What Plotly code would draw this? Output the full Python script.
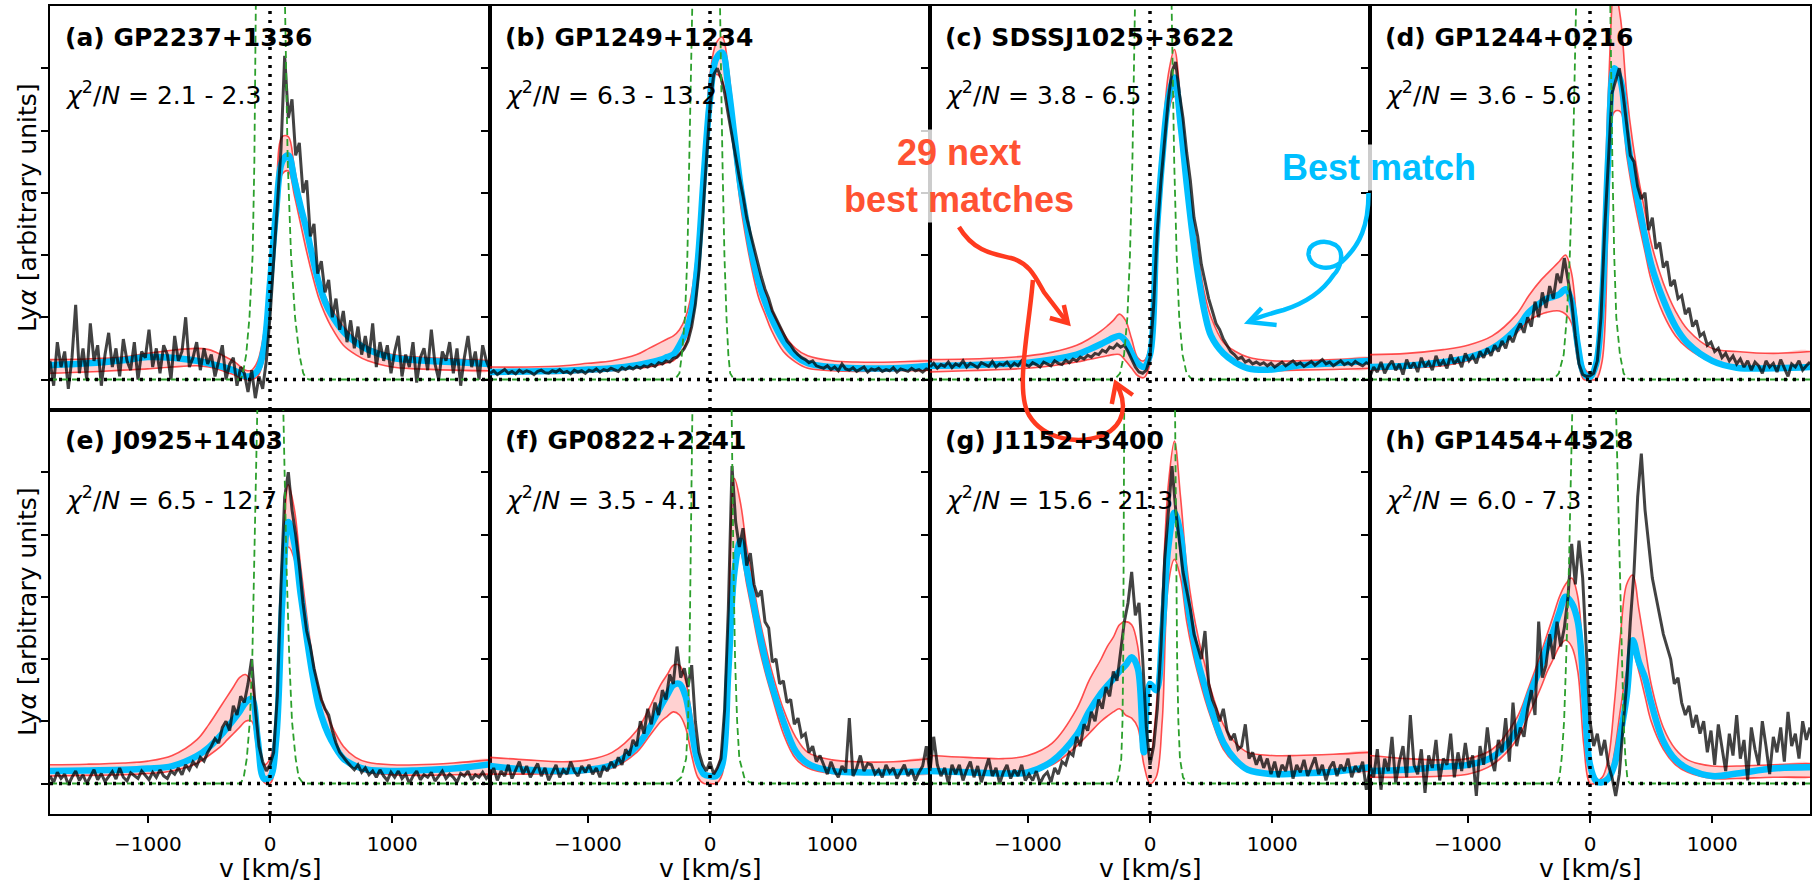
import plotly.graph_objects as go
from plotly.subplots import make_subplots

# ---------------- data (units: y-tick spacing, v in km/s) ----------------
V_BLACK = list(range(-1800, 1801, 30))
V_MODEL = [-1800, -1500, -1200, -1000, -800, -600, -500, -400, -350, -300, -250, -200, -150, -100, -50, 0,
           50, 100, 150, 200, 250, 300, 350, 400, 450, 500, 600, 700, 800, 1000, 1200, 1500, 1800]
GREEN_Y = [0, 0, 0.02, 0.1, 0.4, 1.0, 2.0, 3.5, 6.0, 9.0]

NAMES = ["(a) GP2237+1336", "(b) GP1249+1234", "(c) SDSSJ1025+3622", "(d) GP1244+0216",
         "(e) J0925+1403", "(f) GP0822+2241", "(g) J1152+3400", "(h) GP1454+4528"]
CHI_LO = ["2.1", "6.3", "3.8", "3.6", "6.5", "3.5", "15.6", "6.0"]
CHI_HI = ["2.3", "13.2", "6.5", "5.6", "12.7", "4.1", "21.3", "7.3"]
X_TICKS = [-1000, 0, 1000]
X_TICK_TEXT = ["\u22121000", "0", "1000"]
Y_TICKS = [0, 1, 2, 3, 4, 5]

BLACK_A = [0.3, -0.1, 0.6, 0.2, 0.45, -0.15, 0.35, 1.2, 0.1, 0.5, 0.0, 0.9, 0.3, 0.55, -0.1, 0.4, 0.75, 0.2, 0.5, 0.05, 0.65, 0.3, 0.15, 0.6, 0.0, 0.45, 0.35,
           0.8, 0.2, 0.5, 0.1, 0.55, 0.4, 0.0, 0.7, 0.3, 0.45, 1.0, 0.2, 0.35, 0.6, 0.15, 0.5, 0.25,
           0.4, 0.05, 0.3, 0.55, 0.0, 0.25, 0.35, -0.1, 0.2, 0.1,
           -0.2, 0.15, -0.3, 0.05, -0.15, 0.3,
           1.0,
           1.9, 2.9, 3.7, 5.2, 4.2, 4.5, 3.6, 3.8, 3.0, 3.2, 2.3, 2.5, 1.7, 1.9, 1.4, 1.6, 1.0, 1.3, 0.8, 1.1, 0.6, 0.95, 0.5, 0.85, 0.4, 0.7, 0.35, 0.9, 0.2, 0.6,
           0.3, 0.55, 0.1, 0.45, 0.7, 0.05, 0.4, 0.2, 0.6, -0.05, 0.35, 0.5, 0.15, 0.8, 0.25, 0.0, 0.45, 0.3, 0.6, 0.1, 0.5, -0.1, 0.35, 0.7, 0.2, 0.45, 0.0, 0.55, 0.3, 0.15]
BLACK_B = [0.1, 0.14, 0.08, 0.12, 0.16, 0.1, 0.13, 0.09, 0.15, 0.11, 0.14, 0.12, 0.08, 0.13, 0.15, 0.11, 0.1, 0.14, 0.12, 0.16, 0.11, 0.13, 0.09, 0.15, 0.12, 0.14, 0.1,
           0.15, 0.13, 0.17, 0.12, 0.16, 0.14, 0.18, 0.15, 0.13, 0.19, 0.16, 0.2, 0.17, 0.21, 0.18, 0.22, 0.2,
           0.24, 0.21, 0.27, 0.25, 0.3, 0.28, 0.34, 0.36, 0.42, 0.5,
           0.62, 0.85, 1.2, 1.75, 2.6, 3.6,
           4.4,
           4.9, 5.0, 4.85, 4.6, 4.25, 3.9, 3.55, 3.25, 2.95, 2.6, 2.35, 2.1, 1.85, 1.65, 1.45, 1.3, 1.1, 0.98, 0.85, 0.72, 0.62, 0.55, 0.46, 0.4, 0.35, 0.32, 0.27, 0.3, 0.22, 0.2,
           0.18, 0.22, 0.16, 0.2, 0.14, 0.25, 0.17, 0.15, 0.19, 0.13, 0.16, 0.2, 0.12, 0.17, 0.15, 0.18, 0.13, 0.16, 0.14, 0.19, 0.12, 0.17, 0.15, 0.13, 0.18, 0.14, 0.16, 0.12, 0.17, 0.15]
BLACK_C = [0.2, 0.26, 0.18, 0.24, 0.21, 0.28, 0.19, 0.25, 0.22, 0.3, 0.2, 0.26, 0.23, 0.19, 0.27, 0.24, 0.21, 0.29, 0.2, 0.25, 0.23, 0.28, 0.2, 0.26, 0.22, 0.3, 0.24,
           0.21, 0.27, 0.24, 0.2, 0.28, 0.25, 0.22, 0.3, 0.26, 0.24, 0.31, 0.27, 0.33, 0.3, 0.36, 0.33, 0.39,
           0.36, 0.42, 0.4, 0.47, 0.44, 0.52, 0.5, 0.57, 0.52, 0.55,
           0.45, 0.32, 0.2, 0.12, 0.1, 0.15,
           0.35,
           1.2, 2.4, 3.2, 3.9, 4.5, 4.95, 5.1, 4.6, 4.2, 3.65, 3.2, 2.6, 2.3, 1.85, 1.55, 1.3, 1.1, 0.9, 0.8, 0.65, 0.55, 0.45, 0.4, 0.33, 0.36, 0.28, 0.31, 0.25, 0.28, 0.24,
           0.27, 0.22, 0.26, 0.2, 0.24, 0.28, 0.22, 0.26, 0.3, 0.24, 0.27, 0.21, 0.25, 0.29, 0.23, 0.27, 0.32, 0.25, 0.28, 0.22, 0.26, 0.3, 0.24, 0.27, 0.23, 0.29, 0.25, 0.22, 0.27, 0.24]
BLACK_D = [0.05, 0.2, 0.12, 0.28, 0.1, 0.22, 0.3, 0.15, 0.25, 0.08, 0.32, 0.18, 0.27, 0.12, 0.35, 0.2, 0.28, 0.15, 0.38, 0.22, 0.3, 0.18, 0.4, 0.25, 0.33, 0.2, 0.42,
           0.3, 0.38, 0.26, 0.45, 0.35, 0.5, 0.38, 0.55, 0.45, 0.62, 0.5, 0.7, 0.6, 0.78, 0.9, 0.75, 1.0,
           0.85, 1.25, 1.0, 1.4, 1.15, 1.5, 1.3, 1.7, 1.55, 1.95,
           1.6, 1.25, 0.7, 0.25, 0.08, 0.05,
           0.06,
           0.1, 0.3, 1.0, 2.4, 3.6, 4.6, 4.8, 5.0, 4.6, 4.1, 3.6, 3.5, 3.1, 2.9, 3.0, 2.4, 2.6, 2.1, 2.2, 1.8, 1.9, 1.5, 1.6, 1.3, 1.35, 1.05, 1.15, 0.85, 0.95, 0.7,
           0.75, 0.55, 0.6, 0.45, 0.5, 0.35, 0.42, 0.3, 0.38, 0.25, 0.33, 0.2, 0.3, 0.15, 0.28, 0.22, 0.1, 0.3, 0.2, 0.26, 0.12, 0.32, 0.18, 0.05, 0.25, 0.2, 0.3, 0.15, 0.22, 0.28]
BLACK_E = [0.12, 0.02, 0.18, 0.08, 0.15, -0.02, 0.1, 0.2, 0.05, 0.14, 0.0, 0.12, 0.22, 0.06, 0.16, 0.03, 0.11, 0.19, 0.07, 0.25, 0.1, 0.04, 0.17, 0.12, 0.08, 0.2, 0.13,
           0.06, 0.18, 0.1, 0.22, 0.12, 0.08, 0.2, 0.15, 0.25, 0.14, 0.3, 0.22, 0.35, 0.28, 0.42, 0.36, 0.5,
           0.6, 0.72, 0.65, 0.9, 1.0, 0.85, 1.25, 1.1, 1.4, 1.3,
           1.6, 2.0, 1.2, 0.6, 0.35, 0.2,
           0.3,
           0.5, 1.4, 3.2, 4.6, 5.0, 4.4, 4.0, 3.5, 2.9, 2.45, 2.2, 1.85, 1.6, 1.35, 1.2, 1.1, 0.85, 0.65, 0.5, 0.42, 0.35, 0.28, 0.22, 0.3, 0.18, 0.25, 0.14, 0.2, 0.1, 0.22,
           0.12, 0.05, 0.18, 0.1, 0.2, 0.08, 0.15, 0.0, 0.12, 0.2, 0.06, 0.14, 0.1, 0.18, 0.04, 0.12, 0.2, 0.08, 0.15, 0.1, 0.02, 0.16, 0.12, 0.2, 0.06, 0.14, 0.1, 0.18, 0.08, 0.15]
BLACK_F = [0.1, 0.25, 0.05, 0.2, 0.12, 0.3, 0.08, 0.22, 0.35, 0.15, 0.28, 0.1, 0.2, 0.32, 0.12, 0.25, 0.05, 0.18, 0.3, 0.1, 0.22, 0.15, 0.35, 0.2, 0.12, 0.28, 0.18,
           0.3, 0.15, 0.25, 0.1, 0.28, 0.2, 0.35, 0.25, 0.42, 0.3, 0.55, 0.45, 0.7, 0.6, 1.0, 0.8, 1.2,
           0.95, 1.3, 1.1, 1.5, 1.35, 1.75, 1.6, 2.2, 1.7, 1.85,
           1.55, 1.9, 1.0, 0.5, 0.3, 0.2,
           0.35,
           0.15, 0.25, 0.4, 1.2, 2.8, 5.1, 4.2, 3.8, 4.1, 3.5, 3.7, 3.2, 3.0, 3.1, 2.6, 2.5, 1.95, 2.0, 1.6, 1.65, 1.3, 1.35, 0.95, 1.05, 0.75, 0.8, 0.5, 0.6, 0.35, 0.45,
           0.3, 0.15, 0.35, 0.2, 0.1, 0.28, 0.18, 1.05, 0.12, 0.25, 0.45, 0.2, 0.32, 0.3, 0.15, 0.22, 0.1, 0.3, 0.18, 0.25, 0.08, 0.2, 0.3, 0.12, 0.22, 0.05, 0.18, 0.28, 0.6, 0.15]
BLACK_G = [0.2, 0.75, 0.3, 0.12, 0.25, 0.0, 0.3, 0.15, 0.3, 0.05, 0.22, 0.35, 0.1, 0.28, 0.02, 0.2, 0.4, 0.12, 0.25, 0.0, 0.18, 0.3, 0.08, 0.22, 0.12, 0.3, 0.05,
           0.15, 0.05, 0.2, 0.0, 0.12, 0.18, 0.02, 0.25, 0.15, 0.35, 0.3, 0.5, 0.45, 0.75, 0.6, 0.95, 0.85,
           1.15, 1.0, 1.35, 1.2, 1.55, 1.4, 1.8, 1.65, 2.1, 2.6,
           2.9, 3.4, 2.7, 2.9, 2.0, 0.9,
           0.3,
           0.6, 1.2, 2.2, 3.6, 4.3, 5.1, 4.4, 3.9, 3.4, 3.1, 2.8, 2.4, 2.2, 2.0, 2.45, 1.6, 1.35, 1.2, 1.0, 1.2, 0.85, 0.7, 0.8, 0.55, 0.6, 0.95, 0.4, 0.5, 0.3, 0.45,
           0.25, 0.4, 0.15, 0.35, 0.1, 0.3, 0.2, 0.45, 0.08, 0.3, 0.18, 0.38, 0.12, 0.28, 0.42, 0.15, 0.3, 0.05, 0.25, 0.35, 0.12, 0.3, 0.2, 0.4, 0.1, 0.28, 0.18, 0.35, -0.1, 0.25]
BLACK_H = [0.3, 0.1, 0.55, -0.1, 0.4, 0.2, 0.75, 0.0, 0.35, 0.6, 0.1, 1.1, 0.3, 0.15, 0.55, -0.15, 0.45, 0.25, 0.7, 0.05, 0.4, 0.3, 0.8, 0.1, 0.5, 0.2, 0.65,
           0.25, 0.45, -0.2, 0.6, 0.3, 0.9, 0.4, 0.2, 0.7, 0.5, 1.05, 0.35, 1.3, 0.6, 0.9, 0.75, 1.2,
           1.5, 1.1, 2.6, 1.7, 1.9, 2.4, 2.0, 2.6, 2.2, 2.5,
           3.0, 3.85, 3.2, 3.9, 3.3, 2.1,
           1.0,
           0.6, 0.8, 0.45, 0.7, 0.3, 0.1, -0.2, 0.15, 0.9, 1.6, 2.6, 3.4, 4.6, 5.3, 4.4, 3.9, 3.3, 3.0, 2.7, 2.4, 2.2, 2.0, 1.6, 1.7, 1.3, 1.1, 1.25, 0.9, 1.1, 0.8,
           1.0, 0.5, 0.85, 0.3, 0.95, 0.6, 0.2, 0.8, 0.45, 1.1, 0.4, 0.7, 0.05, 0.9, 0.55, 0.3, 1.0, 0.6, 0.15, 0.75, 0.5, 0.9, 0.35, 1.15, 0.6, 0.8, 0.4, 1.0, 0.7, 0.9]

CYAN_A = [0.23, 0.26, 0.31, 0.36, 0.35, 0.30, 0.26, 0.21, 0.18, 0.15, 0.1, 0.05, 0.06, 0.15, 0.5, 1.55, 2.7, 3.5, 3.6, 3.2, 2.78, 2.4, 1.95, 1.55, 1.25, 1.05, 0.77, 0.6, 0.48, 0.35, 0.31, 0.28, 0.25]
CYAN_B = [0.12, 0.13, 0.14, 0.16, 0.18, 0.23, 0.27, 0.32, 0.36, 0.4, 0.55, 0.75, 1.1, 1.9, 3.3, 4.5, 5.15, 5.25, 4.7, 3.9, 3.1, 2.5, 1.95, 1.55, 1.25, 1.0, 0.62, 0.38, 0.26, 0.2, 0.18, 0.18, 0.22]
CYAN_C = [0.22, 0.23, 0.25, 0.27, 0.32, 0.4, 0.48, 0.57, 0.62, 0.67, 0.7, 0.62, 0.42, 0.26, 0.2, 0.4, 2.2, 3.55, 4.5, 4.85, 4.1, 3.15, 2.3, 1.6, 1.05, 0.7, 0.42, 0.27, 0.18, 0.16, 0.22, 0.26, 0.3]
CYAN_D = [0.2, 0.22, 0.28, 0.35, 0.5, 0.82, 1.08, 1.24, 1.3, 1.33, 1.37, 1.45, 1.25, 0.55, 0.1, 0.04, 0.25, 1.3, 3.6, 5.0, 4.8, 3.95, 3.3, 2.8, 2.3, 1.85, 1.28, 0.85, 0.58, 0.3, 0.19, 0.18, 0.2]
CYAN_E = [0.2, 0.21, 0.22, 0.24, 0.28, 0.44, 0.58, 0.78, 0.9, 1.02, 1.15, 1.3, 1.36, 0.7, 0.08, 0.1, 0.7, 2.9, 4.2, 3.85, 3.05, 2.35, 1.72, 1.22, 0.92, 0.7, 0.4, 0.28, 0.22, 0.2, 0.21, 0.24, 0.31]
CYAN_F = [0.28, 0.22, 0.2, 0.22, 0.3, 0.6, 0.88, 1.25, 1.42, 1.58, 1.6, 1.4, 0.85, 0.35, 0.15, 0.12, 0.12, 0.3, 1.8, 3.4, 3.9, 3.45, 2.95, 2.45, 2.0, 1.62, 1.0, 0.52, 0.32, 0.2, 0.18, 0.18, 0.2]
CYAN_G = [0.2, 0.18, 0.16, 0.18, 0.36, 0.78, 1.15, 1.45, 1.57, 1.68, 1.8, 1.9, 2.03, 1.85, 0.5, 1.6, 1.5, 2.4, 3.8, 4.35, 4.0, 3.0, 2.4, 1.9, 1.55, 1.2, 0.66, 0.38, 0.22, 0.15, 0.16, 0.19, 0.26]
CYAN_H = [0.2, 0.22, 0.27, 0.3, 0.42, 0.85, 1.4, 1.9, 2.2, 2.45, 2.75, 3.0, 2.9, 2.6, 1.5, 0.3, 0.04, 0.02, 0.08, 0.3, 0.8, 1.4, 2.3, 1.95, 1.7, 1.3, 0.68, 0.38, 0.24, 0.12, 0.16, 0.24, 0.26]

RED_LO_A = [0.1, 0.12, 0.15, 0.17, 0.2, 0.22, 0.2, 0.15, 0.11, 0.08, 0.04, 0.0, 0.0, 0.05, 0.35, 1.3, 2.5, 3.3, 3.35, 2.95, 2.5, 2.05, 1.65, 1.3, 1.05, 0.85, 0.55, 0.4, 0.3, 0.2, 0.17, 0.15, 0.14]
RED_HI_A = [0.32, 0.33, 0.36, 0.42, 0.47, 0.5, 0.48, 0.4, 0.35, 0.3, 0.22, 0.15, 0.15, 0.3, 0.75, 1.8, 3.0, 3.9, 3.9, 3.4, 2.9, 2.5, 2.05, 1.6, 1.35, 1.15, 0.85, 0.65, 0.52, 0.4, 0.36, 0.33, 0.3]
RED_LO_B = [0.08, 0.1, 0.1, 0.12, 0.14, 0.18, 0.2, 0.24, 0.27, 0.3, 0.4, 0.55, 0.9, 1.7, 3.0, 4.3, 4.9, 4.8, 4.3, 3.6, 2.8, 2.2, 1.7, 1.3, 1.05, 0.8, 0.45, 0.28, 0.18, 0.14, 0.13, 0.14, 0.15]
RED_HI_B = [0.2, 0.2, 0.22, 0.26, 0.3, 0.4, 0.5, 0.6, 0.65, 0.7, 0.8, 1.0, 1.4, 2.2, 3.6, 4.9, 5.4, 5.5, 5.0, 4.1, 3.3, 2.7, 2.15, 1.7, 1.4, 1.15, 0.75, 0.5, 0.38, 0.3, 0.28, 0.28, 0.3]
RED_LO_C = [0.12, 0.14, 0.16, 0.18, 0.22, 0.28, 0.32, 0.36, 0.38, 0.4, 0.4, 0.3, 0.18, 0.06, 0.03, 0.25, 1.9, 3.3, 4.3, 4.55, 3.9, 3.0, 2.2, 1.5, 1.0, 0.75, 0.42, 0.26, 0.18, 0.14, 0.15, 0.16, 0.18]
RED_HI_C = [0.32, 0.33, 0.35, 0.38, 0.44, 0.55, 0.65, 0.78, 0.86, 0.95, 1.05, 0.95, 0.65, 0.35, 0.3, 0.55, 2.5, 3.8, 4.9, 5.3, 4.5, 3.5, 2.6, 1.9, 1.35, 1.0, 0.6, 0.45, 0.36, 0.3, 0.3, 0.32, 0.35]
RED_LO_D = [0.15, 0.18, 0.22, 0.3, 0.45, 0.75, 0.95, 1.05, 1.08, 1.1, 1.1, 1.05, 0.9, 0.3, 0.0, 0.0, 0.0, 0.3, 2.6, 4.3, 4.3, 3.6, 3.0, 2.5, 2.05, 1.6, 1.05, 0.7, 0.5, 0.28, 0.2, 0.18, 0.18]
RED_HI_D = [0.4, 0.42, 0.48, 0.55, 0.7, 1.05, 1.35, 1.6, 1.7, 1.8, 1.9, 2.0, 1.7, 0.8, 0.2, 0.1, 0.2, 1.6, 4.6, 6.3, 5.8, 4.6, 3.8, 3.2, 2.7, 2.2, 1.55, 1.1, 0.8, 0.5, 0.45, 0.42, 0.45]
RED_LO_E = [0.12, 0.13, 0.14, 0.16, 0.2, 0.32, 0.45, 0.6, 0.7, 0.8, 0.9, 1.0, 1.0, 0.45, 0.02, 0.0, 0.4, 2.5, 3.8, 3.6, 2.9, 2.25, 1.65, 1.2, 0.9, 0.7, 0.38, 0.24, 0.18, 0.14, 0.13, 0.14, 0.15]
RED_HI_E = [0.3, 0.31, 0.33, 0.36, 0.45, 0.7, 0.95, 1.25, 1.4, 1.55, 1.7, 1.75, 1.6, 1.0, 0.3, 0.4, 1.0, 3.3, 4.8, 4.4, 3.5, 2.7, 2.0, 1.5, 1.2, 0.95, 0.6, 0.42, 0.34, 0.3, 0.3, 0.33, 0.38]
RED_LO_F = [0.15, 0.15, 0.16, 0.18, 0.25, 0.5, 0.75, 1.0, 1.08, 1.15, 1.1, 0.9, 0.45, 0.1, 0.0, 0.0, 0.0, 0.15, 1.6, 3.4, 3.7, 3.2, 2.7, 2.2, 1.8, 1.45, 0.8, 0.4, 0.25, 0.16, 0.15, 0.15, 0.16]
RED_HI_F = [0.42, 0.38, 0.35, 0.38, 0.5, 0.85, 1.2, 1.6, 1.75, 1.9, 1.9, 1.65, 1.1, 0.45, 0.2, 0.15, 0.2, 0.6, 2.6, 4.9, 4.5, 3.8, 3.25, 2.7, 2.25, 1.85, 1.2, 0.75, 0.5, 0.38, 0.35, 0.35, 0.4]
RED_LO_G = [0.2, 0.18, 0.17, 0.2, 0.3, 0.6, 0.8, 1.0, 1.08, 1.15, 1.2, 1.1, 1.05, 0.9, 0.3, 0.0, 0.1, 1.0, 3.2, 3.6, 3.3, 2.6, 2.1, 1.7, 1.35, 1.05, 0.55, 0.32, 0.2, 0.15, 0.15, 0.18, 0.2]
RED_HI_G = [0.45, 0.42, 0.4, 0.45, 0.65, 1.2, 1.65, 2.0, 2.2, 2.35, 2.55, 2.6, 2.55, 2.2, 1.0, 0.4, 1.2, 3.0, 4.8, 5.5, 4.6, 3.5, 2.8, 2.3, 1.9, 1.5, 0.95, 0.65, 0.5, 0.45, 0.45, 0.47, 0.5]
RED_LO_H = [0.1, 0.1, 0.12, 0.15, 0.3, 0.7, 1.1, 1.55, 1.8, 2.0, 2.2, 2.3, 2.2, 1.8, 0.6, 0.0, 0.0, 0.0, 0.05, 0.5, 1.2, 1.8, 2.1, 1.8, 1.4, 1.0, 0.55, 0.3, 0.18, 0.08, 0.08, 0.1, 0.1]
RED_HI_H = [0.45, 0.4, 0.38, 0.4, 0.55, 1.05, 1.55, 2.1, 2.4, 2.7, 3.0, 3.2, 3.3, 3.0, 1.8, 0.4, 0.05, 0.1, 0.4, 1.3, 2.4, 3.2, 3.35, 2.8, 2.2, 1.6, 0.9, 0.55, 0.38, 0.28, 0.28, 0.3, 0.32]

GREEN_L_A = [-1800, -250, -235, -222, -195, -168, -142, -128, -116, -108]
GREEN_R_A = [1800, 320, 295, 272, 240, 205, 172, 145, 123, 112]
GREEN_L_B = [-1800, -320, -280, -250, -230, -205, -185, -168, -145, -135]
GREEN_R_B = [1800, 225, 190, 165, 150, 135, 118, 102, 82, 74]
GREEN_L_C = [-1800, -318, -281, -245, -212, -185, -164, -144, -123, -113]
GREEN_R_C = [1800, 372, 335, 299, 266, 239, 218, 198, 177, 168]
GREEN_L_D = [-1800, -320, -290, -255, -215, -190, -165, -140, -114, -105]
GREEN_R_D = [1800, 340, 305, 275, 245, 215, 198, 183, 166, 158]
GREEN_L_E = [-1800, -255, -235, -215, -190, -165, -145, -128, -104, -95]
GREEN_R_E = [1800, 300, 265, 235, 210, 180, 158, 135, 109, 100]
GREEN_L_F = [-1800, -330, -280, -235, -195, -180, -168, -158, -144, -138]
GREEN_R_F = [1800, 370, 320, 280, 240, 222, 205, 192, 177, 170]
GREEN_L_G = [-1800, -290, -272, -260, -235, -225, -219, -215, -211, -208]
GREEN_R_G = [1800, 330, 300, 270, 245, 232, 222, 214, 205, 200]
GREEN_L_H = [-1800, -275, -262, -250, -232, -212, -195, -172, -145, -130]
GREEN_R_H = [1800, 330, 318, 305, 290, 275, 262, 245, 213, 200]

PANELS = [
    dict(black=BLACK_A, cyan=CYAN_A, lo=RED_LO_A, hi=RED_HI_A, gl=GREEN_L_A, gr=GREEN_R_A),
    dict(black=BLACK_B, cyan=CYAN_B, lo=RED_LO_B, hi=RED_HI_B, gl=GREEN_L_B, gr=GREEN_R_B),
    dict(black=BLACK_C, cyan=CYAN_C, lo=RED_LO_C, hi=RED_HI_C, gl=GREEN_L_C, gr=GREEN_R_C),
    dict(black=BLACK_D, cyan=CYAN_D, lo=RED_LO_D, hi=RED_HI_D, gl=GREEN_L_D, gr=GREEN_R_D),
    dict(black=BLACK_E, cyan=CYAN_E, lo=RED_LO_E, hi=RED_HI_E, gl=GREEN_L_E, gr=GREEN_R_E),
    dict(black=BLACK_F, cyan=CYAN_F, lo=RED_LO_F, hi=RED_HI_F, gl=GREEN_L_F, gr=GREEN_R_F),
    dict(black=BLACK_G, cyan=CYAN_G, lo=RED_LO_G, hi=RED_HI_G, gl=GREEN_L_G, gr=GREEN_R_G),
    dict(black=BLACK_H, cyan=CYAN_H, lo=RED_LO_H, hi=RED_HI_H, gl=GREEN_L_H, gr=GREEN_R_H),
]

# ---------------- layout geometry ----------------
W, H = 1812, 884
ML, MR, MT, MB = 50, 0, 6, 70
PW, PH = W - ML - MR, H - MT - MB
COLW, ROWH = PW / 4, PH / 2


def px(x):
    return (x - ML) / PW


def py(y):
    return (H - MB - y) / PH


def path(cmds):
    out = []
    for c, pts in cmds:
        out.append(c + " " + " ".join(f"{px(x):.5f},{py(y):.5f}" for x, y in pts))
    return " ".join(out)


FONT = "DejaVu Sans"
CYAN = "#00BFFF"
RED_TXT = "#FF5233"
RED_ARROW = "#FF3A1F"

fig = make_subplots(rows=2, cols=4, horizontal_spacing=0, vertical_spacing=0)

for k, p in enumerate(PANELS):
    r, c = k // 4 + 1, k % 4 + 1
    assert len(p["black"]) == len(V_BLACK)
    assert len(p["cyan"]) == len(V_MODEL) == len(p["lo"]) == len(p["hi"])
    # red band (29 next best matches)
    fig.add_trace(go.Scatter(x=V_MODEL + V_MODEL[::-1], y=p["hi"] + p["lo"][::-1], fill="toself",
                             fillcolor="rgba(255,45,45,0.22)", line=dict(width=0, shape="spline"),
                             mode="lines", hoverinfo="skip", showlegend=False), row=r, col=c)
    for arr in (p["lo"], p["hi"]):
        fig.add_trace(go.Scatter(x=V_MODEL, y=arr, mode="lines",
                                 line=dict(color="rgba(255,10,10,0.7)", width=1.6, shape="spline"),
                                 hoverinfo="skip", showlegend=False), row=r, col=c)
    # best match
    fig.add_trace(go.Scatter(x=V_MODEL, y=p["cyan"], mode="lines",
                             line=dict(color=CYAN, width=6.5, shape="spline"),
                             showlegend=False), row=r, col=c)
    # observed spectrum
    fig.add_trace(go.Scatter(x=V_BLACK, y=p["black"], mode="lines",
                             line=dict(color="rgba(0,0,0,0.74)", width=3.0),
                             showlegend=False), row=r, col=c)
    # green dashed profile
    fig.add_trace(go.Scatter(x=p["gl"] + [None] + p["gr"], y=GREEN_Y + [None] + GREEN_Y, mode="lines",
                             line=dict(color="#2ca02c", width=1.8, dash="7px,4px"),
                             showlegend=False, connectgaps=False), row=r, col=c)
    fig.add_hline(y=0, row=r, col=c, line=dict(color="black", width=3.5, dash="3px,6px"))
    fig.add_vline(x=0, row=r, col=c, line=dict(color="black", width=3.5, dash="3px,6px"))

fig.update_xaxes(range=[-1800, 1800], showgrid=False, zeroline=False, showline=True, mirror=True,
                 linecolor="black", linewidth=2, tickvals=X_TICKS, ticktext=X_TICK_TEXT)
fig.update_yaxes(range=[-0.49, 6.0], showgrid=False, zeroline=False, showline=True, mirror=True,
                 linecolor="black", linewidth=2, tickvals=Y_TICKS, ticks="outside", ticklen=7,
                 tickwidth=1.5, tickcolor="black", showticklabels=False)
for c in range(1, 5):
    fig.update_xaxes(row=1, col=c, ticks="", showticklabels=False)
    fig.update_xaxes(row=2, col=c, ticks="outside", ticklen=7, tickwidth=1.5, tickcolor="black",
                     showticklabels=True, tickfont=dict(family=FONT, size=20, color="black"),
                     ticklabelstandoff=4)

ann = []
for k in range(8):
    r, c = k // 4, k % 4
    left = ML + c * COLW
    top = MT + r * ROWH
    ann.append(dict(x=px(left + 13), y=py(top + 31), xref="paper", yref="paper", xanchor="left",
                    yanchor="middle", showarrow=False, text=f"<b>{NAMES[k]}</b>",
                    font=dict(family=FONT, size=25, color="black")))
    ann.append(dict(x=px(left + 13), y=py(top + 88), xref="paper", yref="paper", xanchor="left",
                    yanchor="middle", showarrow=False,
                    text=f"<i>\u03c7</i><sup>2</sup>/<i>N</i> = {CHI_LO[k]} - {CHI_HI[k]}",
                    font=dict(family=FONT, size=25, color="black")))
for r in range(2):
    ann.append(dict(x=px(27), y=py(MT + r * ROWH + ROWH / 2), xref="paper", yref="paper",
                    xanchor="center", yanchor="middle", textangle=-90, showarrow=False,
                    text="Ly<i>\u03b1</i> [arbitrary units]", font=dict(family=FONT, size=25, color="black")))
for c in range(4):
    ann.append(dict(x=px(ML + c * COLW + COLW / 2), y=py(868), xref="paper", yref="paper",
                    xanchor="center", yanchor="middle", showarrow=False,
                    text="v [km/s]", font=dict(family=FONT, size=25, color="black")))

ann.append(dict(x=px(960), y=py(176), xref="paper", yref="paper", xanchor="center", yanchor="middle",
                showarrow=False, align="center", text="<b>29 next<br>best matches</b>",
                bgcolor="rgba(255,255,255,0.8)", borderpad=2,
                font=dict(family="Liberation Sans", size=36, color=RED_TXT)))
ann.append(dict(x=px(1381), y=py(168), xref="paper", yref="paper", xanchor="center", yanchor="middle",
                showarrow=False, text="<b>Best match</b>", bgcolor="rgba(255,255,255,0.8)", borderpad=2,
                font=dict(family="Liberation Sans", size=36, color=CYAN)))

shapes = []
red_line = dict(color=RED_ARROW, width=4.5)
cy_line = dict(color=CYAN, width=4.5)
shapes.append(dict(type="path", xref="paper", yref="paper", line=red_line, layer="above",
                   path=path([("M", [(960, 227)]), ("C", [(975, 252), (995, 254), (1012, 258)]),
                              ("C", [(1030, 263), (1036, 276), (1045, 292)]), ("L", [(1068, 322)])])))
shapes.append(dict(type="path", xref="paper", yref="paper", line=red_line, layer="above",
                   path=path([("M", [(1065, 305)]), ("L", [(1069, 323)]), ("L", [(1051, 318)])])))
shapes.append(dict(type="path", xref="paper", yref="paper", line=red_line, layer="above",
                   path=path([("M", [(1034, 280)]), ("C", [(1030, 330), (1016, 390), (1030, 415)]),
                              ("C", [(1045, 440), (1080, 445), (1105, 435)]),
                              ("C", [(1125, 425), (1130, 405), (1117, 383)])])))
shapes.append(dict(type="path", xref="paper", yref="paper", line=red_line, layer="above",
                   path=path([("M", [(1113, 404)]), ("L", [(1117, 383)]), ("L", [(1134, 395)])])))
shapes.append(dict(type="path", xref="paper", yref="paper", line=cy_line, layer="above",
                   path=path([("M", [(1370, 193)]), ("C", [(1370, 225), (1362, 245), (1343, 262)]),
                              ("C", [(1330, 272), (1312, 268), (1310, 255)]),
                              ("C", [(1309, 243), (1325, 238), (1337, 245)]),
                              ("C", [(1347, 252), (1342, 268), (1335, 275)]),
                              ("C", [(1325, 290), (1310, 302), (1285, 310)]),
                              ("C", [(1270, 314), (1260, 317), (1251, 321)])])))
shapes.append(dict(type="path", xref="paper", yref="paper", line=cy_line, layer="above",
                   path=path([("M", [(1263, 308)]), ("L", [(1250, 322)]), ("L", [(1278, 325)])])))

fig.update_layout(width=W, height=H, margin=dict(l=ML, r=MR, t=MT, b=MB),
                  paper_bgcolor="white", plot_bgcolor="white", showlegend=False,
                  font=dict(family=FONT, color="black"), annotations=list(fig.layout.annotations) + ann)
for s in shapes:
    fig.add_shape(**s)

fig.write_html("out.html")
